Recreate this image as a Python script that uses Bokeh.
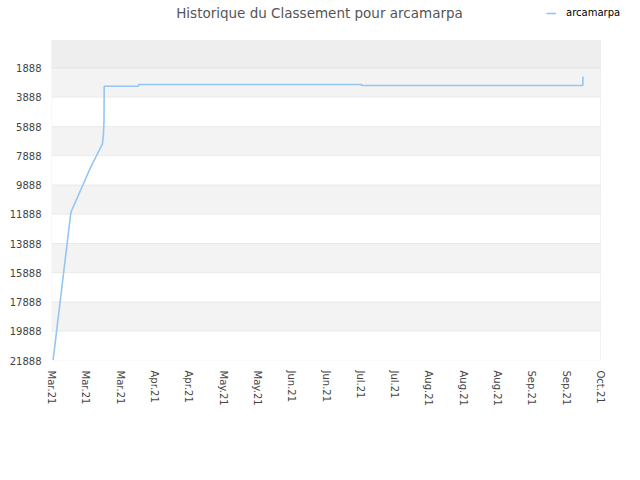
import pandas as pd
from bokeh.plotting import figure
from bokeh.models import (FixedTicker, DatetimeTickFormatter, BoxAnnotation, Legend,
                          LegendItem, Range1d, ColumnDataSource, Label)
from bokeh.embed import file_html
from bokeh.resources import INLINE

# ---- data ----
title_text = "Historique du Classement pour arcamarpa"
series_name = "arcamarpa"
dates = ["2021-03-01 16:00", "2021-03-08 22:00", "2021-03-17 00:00",
         "2021-03-20 10:00", "2021-03-21 19:00", "2021-03-22 05:00", "2021-03-22 10:00",
         "2021-03-22 12:00", "2021-04-05 12:00", "2021-04-05 13:00", "2021-07-05 12:00",
         "2021-07-05 13:00", "2021-10-03 19:00", "2021-10-03 20:00"]
ranks = [21840, 11745, 8666, 7524, 7066, 6382, 5472,
         3126, 3126, 3010, 3010, 3078, 3078, 2462]
y_ticks = [1888, 3888, 5888, 7888, 9888, 11888, 13888, 15888, 17888, 19888, 21888]
x_tick_dates = ["2021-03-01", "2021-03-15", "2021-03-29", "2021-04-12", "2021-04-26",
                "2021-05-10", "2021-05-24", "2021-06-07", "2021-06-21", "2021-07-05",
                "2021-07-19", "2021-08-02", "2021-08-16", "2021-08-30", "2021-09-13",
                "2021-09-27", "2021-10-11"]
x_start, x_end = "2021-03-01", "2021-10-11"
y_top, y_bottom = 0, 21888

FONT = "DejaVu Sans"
LINE_COLOR = "#95c5f3"
GRID_COLOR = "#d6d6d6"

# layout (pixels)
LEFT, PLOT_W, RIGHT_PAD, HEAD_H, PLOT_H, BOTTOM = 51, 549, 32, 40, 320, 112

t0, t1 = pd.Timestamp(x_start), pd.Timestamp(x_end)
span_t = t1 - t0
frame_x_end = t1 + span_t * (RIGHT_PAD / PLOT_W)
frame_y_top = y_top - (y_bottom - y_top) * (HEAD_H / PLOT_H)

src = ColumnDataSource(dict(x=pd.to_datetime(dates), y=ranks))

p = figure(frame_width=PLOT_W + RIGHT_PAD, frame_height=HEAD_H + PLOT_H,
           x_axis_type="datetime", output_backend="svg", toolbar_location=None,
           x_range=Range1d(t0, frame_x_end), y_range=Range1d(y_bottom, frame_y_top),
           min_border_left=LEFT, min_border_right=0, min_border_top=0,
           min_border_bottom=BOTTOM)

p.outline_line_color = None
p.background_fill_color = "white"
p.border_fill_color = "white"
p.grid.visible = False

# plot-area bands, grid lines and border
edges = [y_top] + y_ticks
band_fills = ["#eeeeee"] + ["#f3f3f3" if i % 2 == 0 else "#ffffff" for i in range(len(y_ticks) - 1)]
for (a, b), fc in zip(zip(edges[:-1], edges[1:]), band_fills):
    p.add_layout(BoxAnnotation(left=t0, right=t1, top=a, bottom=b, fill_color=fc,
                               fill_alpha=1, line_color=GRID_COLOR, line_width=1,
                               level="underlay"))

r = p.line("x", "y", source=src, line_color=LINE_COLOR, line_width=1.6)

# title and legend in the header strip
p.add_layout(Label(x=268, y=HEAD_H + PLOT_H - 12, x_units="screen", y_units="screen",
                   text=title_text, text_align="center", text_baseline="middle",
                   text_font=FONT, text_font_size="13.5px", text_color="#555555"))
legend = Legend(items=[LegendItem(label=series_name, renderers=[r])],
                location=(495, HEAD_H + PLOT_H - 18), orientation="horizontal",
                background_fill_alpha=0, border_line_color=None,
                padding=0, margin=0, glyph_width=10, glyph_height=10,
                label_standoff=10, label_text_font=FONT, label_text_font_size="10px",
                label_text_color="#000000", label_height=10)
p.add_layout(legend, "center")

# axes
p.yaxis.ticker = FixedTicker(ticks=y_ticks)
p.yaxis.axis_line_color = None
p.yaxis.major_tick_line_color = None
p.yaxis.minor_tick_line_color = None
p.yaxis.major_tick_out = 0
p.yaxis.major_label_standoff = 10
p.yaxis.major_label_text_font = FONT
p.yaxis.major_label_text_font_size = "10px"
p.yaxis.major_label_text_color = "#444444"

xt = [pd.Timestamp(d).value / 1e6 for d in x_tick_dates]
p.xaxis.ticker = FixedTicker(ticks=xt)
fmt = "%b.%y"
p.xaxis.formatter = DatetimeTickFormatter(milliseconds=fmt, seconds=fmt, minsec=fmt, minutes=fmt,
                                          hourmin=fmt, hours=fmt, days=fmt, months=fmt, years=fmt)
p.xaxis.major_label_orientation = "vertical"
p.xaxis.axis_line_color = None
p.xaxis.major_tick_line_color = None
p.xaxis.minor_tick_line_color = None
p.xaxis.major_tick_out = 0
p.xaxis.major_label_standoff = 10
p.xaxis.major_label_text_font = FONT
p.xaxis.major_label_text_font_size = "10px"
p.xaxis.major_label_text_color = "#444444"

open("out.html", "w").write(file_html(p, INLINE))
